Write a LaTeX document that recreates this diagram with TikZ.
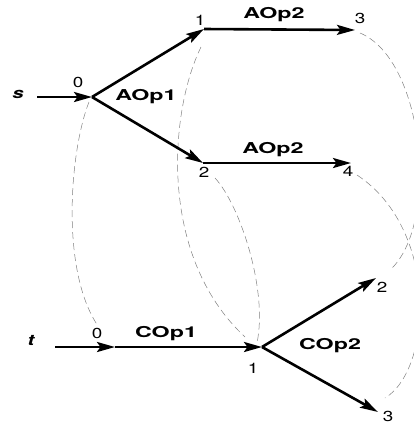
\documentclass[tikz,border=0pt]{standalone}
\usepackage{fontspec}
\setmainfont{TeX Gyre Heros}
\newfontfamily\opfont[FakeStretch=1.55]{TeX Gyre Heros}
\newfontfamily\numfont[FakeStretch=1.3]{TeX Gyre Heros}
\newfontfamily\varfont[FakeStretch=1.35]{TeX Gyre Heros}
\usetikzlibrary{arrows.meta}
\tikzset{
  oplbl/.style={inner sep=0pt, anchor=base, font=\opfont\bfseries\fontsize{15}{17}\selectfont},
  numlbl/.style={inner sep=0pt, anchor=base, font=\numfont\fontsize{14.5}{16}\selectfont},
  varlbl/.style={inner sep=0pt, anchor=base, font=\varfont\bfseries\itshape\fontsize{15}{17}\selectfont},
  edgearrow/.style={line width=2.6pt, -{Stealth[length=18pt,width=10pt,inset=3.5pt]}},
  mapline/.style={gray, line width=0.5pt, dash pattern=on 7pt off 4pt}
}
\begin{document}
\begin{tikzpicture}[x=1pt,y=-1pt]
\useasboundingbox (0,0) rectangle (414,424);
\clip (0,0) rectangle (414,424);
% top graph points
\coordinate (sst) at (37,97);
\coordinate (A0) at (92,97);
\coordinate (A1) at (204,29);
\coordinate (A2) at (203,163);
\coordinate (A3) at (355,30);
\coordinate (A4) at (351,163);
% bottom graph points
\coordinate (tst) at (55,347);
\coordinate (C0) at (115,347);
\coordinate (C1) at (262,347);
\coordinate (C2) at (376,278);
\coordinate (C3) at (378,412);
% labels
\node[varlbl] (s) at (18,98) {s};
\node[varlbl] (t) at (31,345) {t};
\node[numlbl] (a0) at (78,87) {0};
\node[numlbl] (a1) at (200,25) {1};
\node[numlbl] (a2) at (204,177) {2};
\node[numlbl] (a3) at (360,23) {3};
\node[numlbl] (a4) at (348,176) {4};
\node[numlbl] (c0) at (97,338) {0};
\node[numlbl] (c1) at (253,373) {1};
\node[numlbl] (c2) at (382,292) {2};
\node[numlbl] (c3) at (388,421) {3};
\node[oplbl] (op1) at (146,100) {AOp1};
\node[oplbl] (op2a) at (274,18) {AOp2};
\node[oplbl] (op2b) at (273,153) {AOp2};
\node[oplbl] (cop1) at (166,337) {COp1};
\node[oplbl] (cop2) at (330,349) {COp2};
% mapping curves
\draw[mapline] ([shift={(-3,5)}]A0) .. controls (70,150) and (60,270) .. ([shift={(1,-12)}]c0.base);
\draw[mapline] ([shift={(-3,18)}]A1) .. controls (170,110) and (157,255) .. ([shift={(-17,-10)}]C1);
\draw[mapline] ([shift={(11,1)}]a2.base) .. controls (240,205) and (268,290) .. ([shift={(-5,-4)}]C1);
\draw[mapline] ([shift={(0,10)}]a3.base) .. controls (425,60) and (440,225) .. ([shift={(8,-22)}]c2.base);
\draw[mapline] ([shift={(9,-1)}]a4.base) .. controls (440,230) and (432,370) .. ([shift={(-3,-23)}]c3.base);
% arrows
\draw[edgearrow] (sst) -- (A0);
\draw[edgearrow] (A0) -- (A1);
\draw[edgearrow] (A0) -- (A2);
\draw[edgearrow] (A1) -- (A3);
\draw[edgearrow] (A2) -- (A4);
\draw[edgearrow] (tst) -- (C0);
\draw[edgearrow] (C0) -- (C1);
\draw[edgearrow] (C1) -- (C2);
\draw[edgearrow] (C1) -- (C3);
\end{tikzpicture}
\end{document}
